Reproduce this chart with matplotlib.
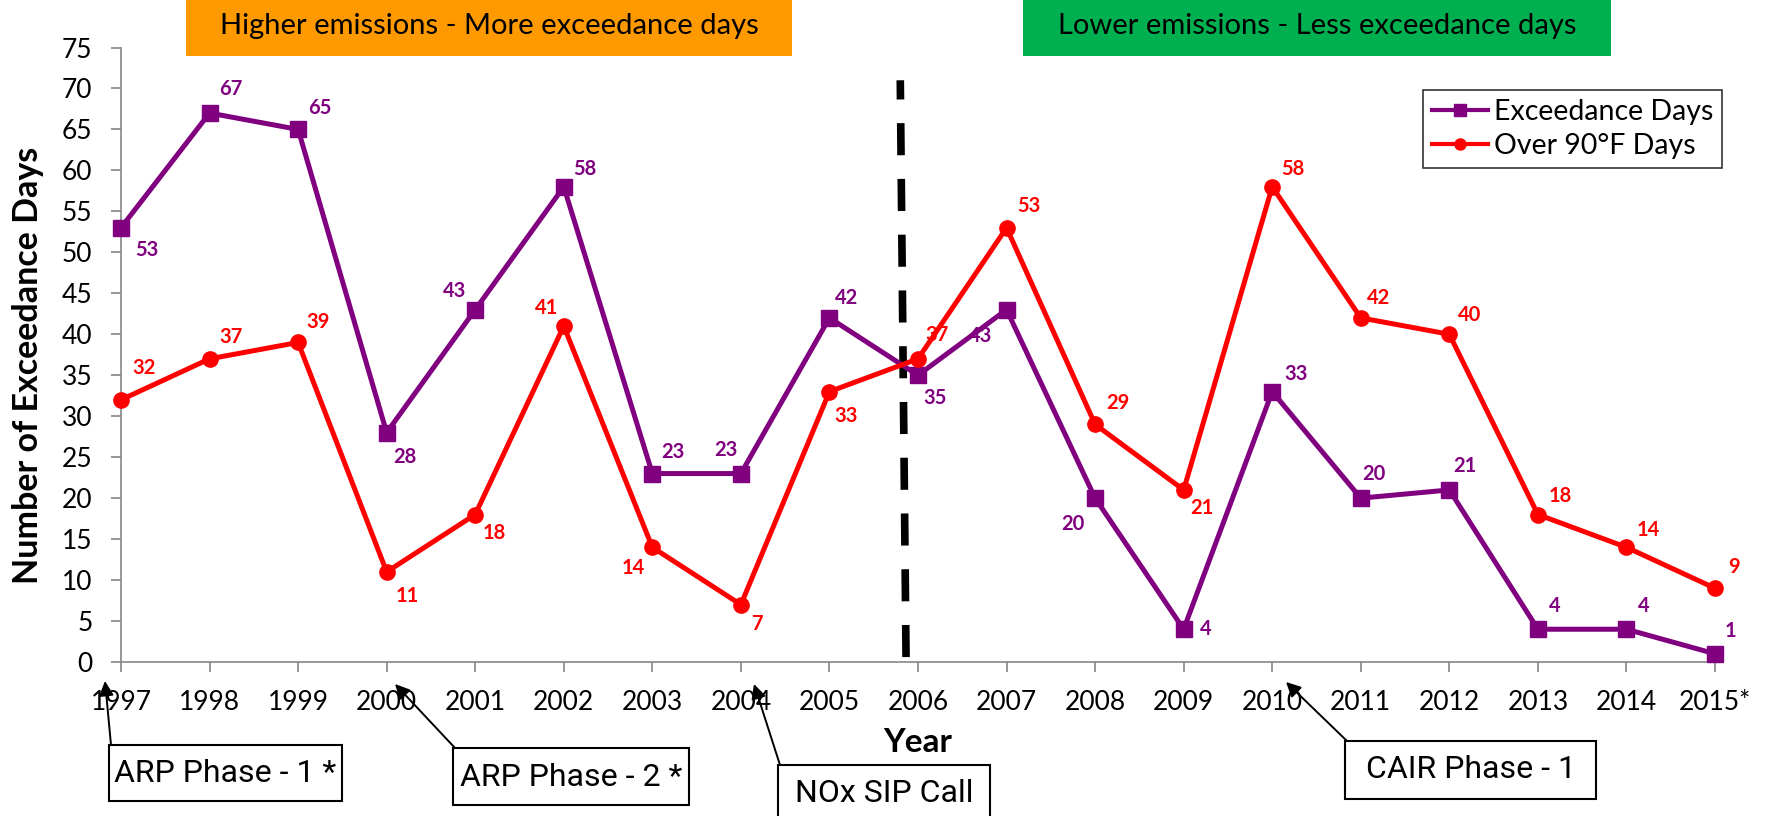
import matplotlib
matplotlib.use('Agg')
import matplotlib.pyplot as plt
from matplotlib.patches import Rectangle
from matplotlib.lines import Line2D

# ---------------- data ----------------
years = list(range(1997, 2016))
year_labels = [str(y) for y in years[:-1]] + ['2015*']
exceedance = [53, 67, 65, 28, 43, 58, 23, 23, 42, 35, 43, 20, 4, 33, 20, 21, 4, 4, 1]
over90 = [32, 37, 39, 11, 18, 41, 14, 7, 33, 37, 53, 29, 21, 58, 42, 40, 18, 14, 9]
y_ticks = list(range(0, 80, 5))

# label offsets (pixels, x right / y down)
exc_off = [(23, 20), (19, -21), (19, -19), (16, 22), (-18, -17), (19, -16), (18, -19),
           (-13, -21), (15, -18), (15, 20), (-23, 23), (-20, 23), (20, 0), (21, -16),
           (12, -21), (14, -21), (15, -21), (15, -21), (14, -20)]
o90_off = [(20, -28), (19, -19), (18, -18), (18, 21), (17, 16), (-15, -16), (-17, 18),
           (14, 17), (15, 22), (17, -21), (20, -19), (20, -19), (16, 16), (18, -16),
           (16, -18), (18, -17), (20, -16), (19, -15), (17, -19)]

PURPLE = '#800080'
RED = '#FF0000'
FONT = ['Lato', 'DejaVu Sans']
BOXFONT = ['Roboto', 'DejaVu Sans']
plt.rcParams['font.family'] = FONT

W, H = 1769, 816
fig = plt.figure(figsize=(W / 100, H / 100), dpi=100)


def fx(px):
    return px / W


def fy(py):
    return 1 - py / H


ax = fig.add_axes([fx(121), fy(662), fx(1715) - fx(121), fy(47.5) - fy(662)])

ax.plot(years, exceedance, color=PURPLE, lw=3.6, marker='s', ms=11, clip_on=False, zorder=4)
ax.plot(years, over90, color=RED, lw=3.6, marker='o', ms=11, clip_on=False, zorder=4)

k = 0.812
for x, v, (dx, dy) in zip(years, exceedance, exc_off):
    ax.annotate(str(v), (x, v), xytext=(dx * k, -dy * k), textcoords='offset points',
                ha='center', va='center', color=PURPLE, fontsize=14.5, fontweight='bold',
                annotation_clip=False)
for x, v, (dx, dy) in zip(years, over90, o90_off):
    ax.annotate(str(v), (x, v), xytext=(dx * k, -dy * k), textcoords='offset points',
                ha='center', va='center', color=RED, fontsize=14.5, fontweight='bold',
                annotation_clip=False)

# dashed divider (drawn from bottom up)
ax.plot([2005.865, 2005.80], [0.6, 71], color='black', lw=5.5, dashes=(4.2, 3.1),
        dash_capstyle='butt', zorder=3)

ax.set_xlim(1997, 2015)
ax.set_ylim(0, 75)
ax.set_xticks(years)
ax.set_xticklabels(year_labels)
ax.set_yticks(y_ticks)
for s in ['top', 'right']:
    ax.spines[s].set_visible(False)
for s in ['left', 'bottom']:
    ax.spines[s].set_color('#868686')
    ax.spines[s].set_linewidth(1.2)
ax.tick_params(axis='both', colors='#868686', labelcolor='black', length=7.5, width=1.2,
               labelsize=19)
ax.tick_params(axis='x', pad=13)
ax.tick_params(axis='y', pad=13)
ax.set_ylabel('Number of Exceedance Days', fontsize=24.5, fontweight='bold', labelpad=13,
              y=0.482)
ax.set_xlabel('Year', fontsize=24, fontweight='bold', labelpad=9)

# legend
handles = [Line2D([], [], color=PURPLE, lw=3, marker='s', ms=8),
           Line2D([], [], color=RED, lw=3, marker='o', ms=8)]
leg = fig.legend(handles, ['Exceedance Days', 'Over 90°F Days'], loc='upper left',
                 bbox_to_anchor=(fx(1423), fy(90)), fontsize=20.5, frameon=True,
                 fancybox=False, edgecolor='black', handlelength=2.0, handletextpad=0.2,
                 borderpad=0.3, labelspacing=0.3, borderaxespad=0)
leg.get_frame().set_linewidth(1.2)

# banners
for (x0, x1, col, txt) in [(186, 792, '#FF9900', 'Higher emissions - More exceedance days'),
                           (1023, 1611, '#00B050', 'Lower emissions - Less exceedance days')]:
    fig.add_artist(Rectangle((fx(x0), fy(56)), fx(x1) - fx(x0), 56 / H,
                             transform=fig.transFigure, fc=col, ec='none'))
    fig.text(fx((x0 + x1) / 2), fy(26), txt, ha='center', va='center', fontsize=21,
             color='black')

# annotation boxes with arrows
boxes = [(109, 342, 745, 801, 'ARP Phase - 1 *', (105, 681)),
         (453, 689, 748, 805, 'ARP Phase - 2 *', (395, 684)),
         (778, 990, 765, 830, 'NOx SIP Call', (754, 684)),
         (1345, 1596, 741, 799, 'CAIR Phase - 1', (1286, 682))]
for (x0, x1, y0, y1, txt, tip) in boxes:
    fig.add_artist(Rectangle((fx(x0), fy(y1)), fx(x1) - fx(x0), (y1 - y0) / H,
                             transform=fig.transFigure, fc='white', ec='black', lw=1.5))
    fig.text(fx((x0 + x1) / 2), fy(y0 + 29), txt, ha='center', va='center', fontsize=23,
             color='black', family=BOXFONT)
    ax.annotate('', xy=(tip[0], H - tip[1]), xytext=(x0 + 2, H - y0),
                xycoords='figure pixels', textcoords='figure pixels',
                arrowprops=dict(arrowstyle='-|>', color='black', lw=1.4,
                                mutation_scale=22, shrinkA=0, shrinkB=0),
                annotation_clip=False)

fig.savefig('out.png', dpi=100)
